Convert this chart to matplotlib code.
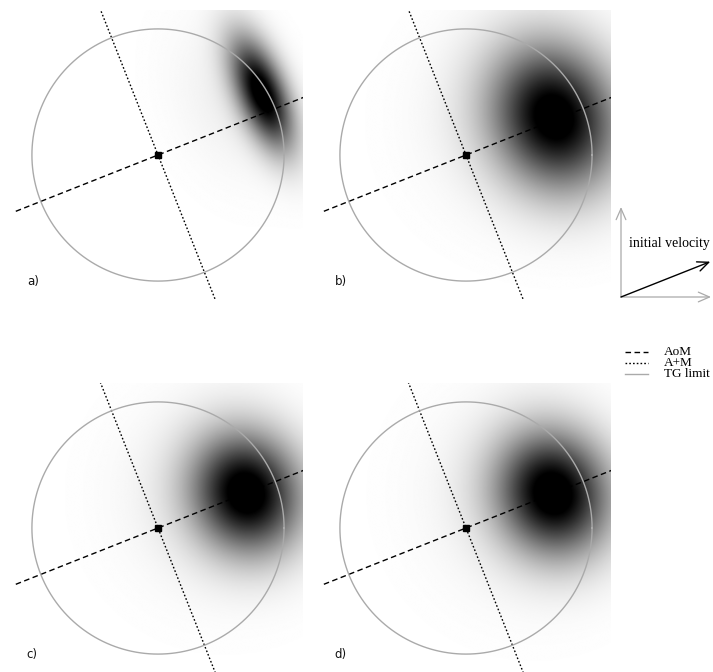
import numpy as np
import matplotlib
matplotlib.use("Agg")
import matplotlib.pyplot as plt

W, H = 713, 672
DPI = 100

# --- data -------------------------------------------------------------
panel_labels = ["a)", "b)", "c)", "d)"]
velocity_angle_deg = 21.6          # direction of initial velocity / AoM axis
tg_radius = 1.0                    # TG limit circle radius
view_half = 1.15                   # half-width of each panel (in TG radii)

# core blob: position along AoM (u) and across (v), spreads and peak
blob_u = [0.95, 0.77, 0.76, 0.75]
blob_v = [0.15, 0.02, 0.00, 0.00]
blob_su = [0.13, 0.33, 0.29, 0.30]
blob_sv = [0.32, 0.40, 0.33, 0.34]
blob_peak = [1.08, 1.03, 1.05, 1.05]
# broad faint halo around each blob
halo_u = [0.70, 0.50, 0.50, 0.50]
halo_v = [0.20, 0.10, 0.05, 0.05]
halo_su = [0.30, 0.50, 0.48, 0.50]
halo_sv = [0.45, 0.50, 0.50, 0.52]
halo_peak = [0.06, 0.08, 0.08, 0.08]

legend_labels = ["AoM", "A+M", "TG limit"]

# --- layout (pixel boxes of the four panels: left, top) ----------------
panel_boxes = [(13, 10), (321, 10), (13, 383), (321, 383)]
panel_size = 290

fig = plt.figure(figsize=(W / DPI, H / DPI), dpi=DPI)
fig.patch.set_facecolor("white")

th = np.deg2rad(velocity_angle_deg)
e_u = np.array([np.cos(th), np.sin(th)])
e_v = np.array([-np.sin(th), np.cos(th)])

n = 400
g = np.linspace(-view_half, view_half, n)
X, Y = np.meshgrid(g, g)
U = X * e_u[0] + Y * e_u[1]
V = X * e_v[0] + Y * e_v[1]

for i, (px, py) in enumerate(panel_boxes):
    ax = fig.add_axes([px / W, (H - py - panel_size) / H, panel_size / W, panel_size / H])
    ax.set_xlim(-view_half, view_half)
    ax.set_ylim(-view_half, view_half)
    ax.set_aspect("equal")
    ax.axis("off")

    core = blob_peak[i] * np.exp(-0.5 * (((U - blob_u[i]) / blob_su[i]) ** 2
                                         + ((V - blob_v[i]) / blob_sv[i]) ** 2))
    halo = halo_peak[i] * np.exp(-0.5 * (((U - halo_u[i]) / halo_su[i]) ** 2
                                         + ((V - halo_v[i]) / halo_sv[i]) ** 2))
    inten = np.clip(core + halo, 0, 1)
    ax.imshow(inten, extent=[-view_half, view_half, -view_half, view_half],
              origin="lower", cmap="gray_r", vmin=0, vmax=1,
              interpolation="bilinear", zorder=0)

    L = 2.0
    ax.plot([-L * e_u[0], L * e_u[0]], [-L * e_u[1], L * e_u[1]],
            color="black", lw=1.0, dashes=(4, 2.5), zorder=2)
    ax.plot([-L * e_v[0], L * e_v[0]], [-L * e_v[1], L * e_v[1]],
            color="black", lw=1.0, dashes=(1.2, 1.5), zorder=2)
    t = np.linspace(0, 2 * np.pi, 361)
    ax.plot(tg_radius * np.cos(t), tg_radius * np.sin(t), color="#aaaaaa", lw=1.0, zorder=3)
    ax.plot([0], [0], marker="s", ms=5, color="black", zorder=4)

    ax.text(-1.04, -1.0, panel_labels[i], fontsize=8.5, family="DejaVu Sans",
            ha="left", va="center", color="#111111")

# --- overlay for the velocity sketch and legend -------------------------
ov = fig.add_axes([0, 0, 1, 1])
ov.set_xlim(0, W)
ov.set_ylim(H, 0)
ov.axis("off")
ov.patch.set_alpha(0)

origin = (621, 297)
axis_len = 90
vel_len = 96
gray_arrow = dict(arrowstyle="->,head_length=0.8,head_width=0.35", color="#aaaaaa", lw=0.9,
                  shrinkA=0, shrinkB=0)
ov.annotate("", xy=(origin[0], origin[1] - axis_len), xytext=origin, arrowprops=gray_arrow)
ov.annotate("", xy=(origin[0] + axis_len, origin[1]), xytext=origin, arrowprops=gray_arrow)
ov.annotate("", xy=(origin[0] + vel_len * np.cos(th), origin[1] - vel_len * np.sin(th)),
            xytext=origin,
            arrowprops=dict(arrowstyle="->,head_length=0.8,head_width=0.35", color="black",
                            lw=1.0, shrinkA=0, shrinkB=0))
ov.text(669, 243, "initial velocity", fontsize=10, family="Liberation Serif",
        ha="center", va="center")

leg_y = [352, 363, 374]
leg_styles = [dict(color="black", dashes=(4, 2.5)),
              dict(color="black", dashes=(1.2, 1.5)),
              dict(color="#aaaaaa")]
for y, lab, st in zip(leg_y, legend_labels, leg_styles):
    ov.plot([625, 648], [y, y], lw=1.0, **st)
    ov.text(664, y, lab, fontsize=9.5, family="Liberation Serif", ha="left", va="center")

fig.savefig("out.png", dpi=DPI, facecolor="white")
